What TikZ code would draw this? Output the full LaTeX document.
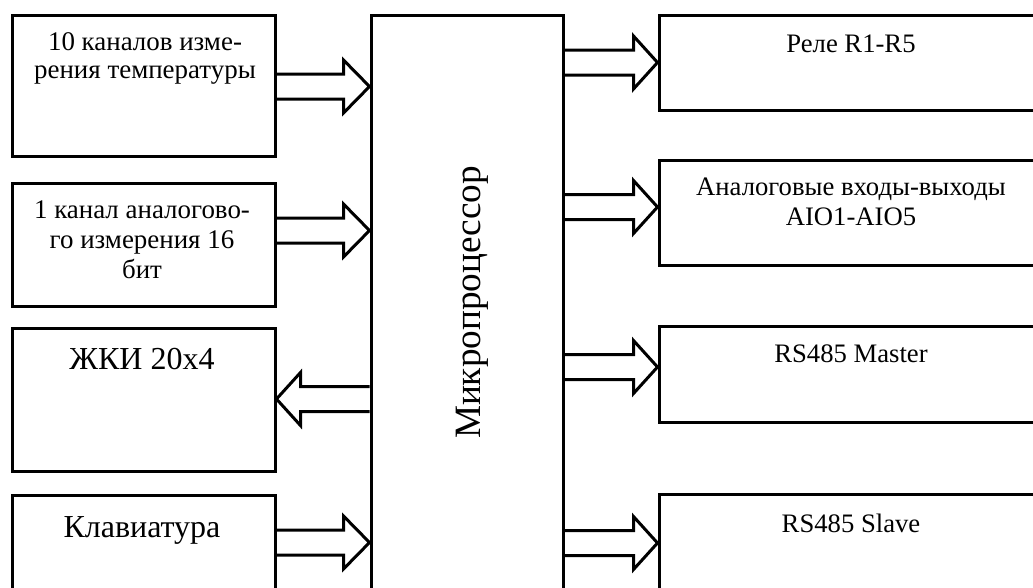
\documentclass[tikz,border=0pt]{standalone}
\usepackage{fontspec}
\setmainfont{Liberation Serif}
\usetikzlibrary{calc,fit}
\tikzset{
  box/.style={draw, line width=2.25pt, inner sep=0pt, rectangle},
  conn/.style={line width=2.25pt, line join=miter},
  lbl/.style={anchor=base, inner sep=0pt},
  ftl/.style={font=\fontsize{20.2pt}{24pt}\selectfont},
  ftr/.style={font=\fontsize{20pt}{24pt}\selectfont},
  ftb/.style={font=\fontsize{24pt}{28pt}\selectfont},
  ftm/.style={font=\fontsize{27.9pt}{32pt}\selectfont},
}
\newcommand\blockarr[3]{%
  \draw[conn] ($(#1)+(0,-12.5)$) -- ($(#2)+(#3,-12.5)$) -- ($(#2)+(#3,-26.5)$)
    -- (#2) -- ($(#2)+(#3,26.5)$) -- ($(#2)+(#3,12.5)$) -- ($(#1)+(0,12.5)$);}
\begin{document}
\begin{tikzpicture}[x=0.75pt,y=-0.75pt]
\useasboundingbox (0,0) rectangle (1033,587);
\clip (0,0) rectangle (1033,587);
% left boxes
\node[box, fit={(12,15) (275,156.5)}] (b1) {};
\node[box, fit={(12,183.5) (275,306.5)}] (b2) {};
\node[box, fit={(12,328.5) (275,471)}] (b3) {};
\node[box, fit={(12,495.5) (275,620)}] (b4) {};
% microprocessor
\node[box, fit={(371,15) (563,620)}] (mp) {};
% right boxes
\node[box, fit={(659,15.5) (1043,110)}] (r1) {};
\node[box, fit={(659,160) (1043,265)}] (r2) {};
\node[box, fit={(659,326.5) (1043,422)}] (r3) {};
\node[box, fit={(659,494.5) (1043,620)}] (r4) {};
% texts
\node[lbl, ftl] (t1a) at (145,50) {10 каналов изме-};
\node[lbl, ftl] (t1b) at (145,78.5) {рения температуры};
\node[lbl, ftl] (t2a) at (142,218.5) {1 канал аналогово-};
\node[lbl, ftl] (t2b) at (142,248.5) {го измерения 16};
\node[lbl, ftl] (t2c) at (142,278.5) {бит};
\node[lbl, ftb] (t3) at (142,369) {ЖКИ 20x4};
\node[lbl, ftb] (t4) at (142,537) {Клавиатура};
\node[lbl, ftm, rotate=90] (tm) at (480,302.5) {Микропроцессор};
\node[lbl, ftr] (tr1) at (851,52) {Реле R1-R5};
\node[lbl, ftr] (tr2a) at (851,195) {Аналоговые входы-выходы};
\node[lbl, ftr] (tr2b) at (851,225) {AIO1-AIO5};
\node[lbl, ftr] (tr3) at (851,362) {RS485 Master};
\node[lbl, ftr] (tr4) at (851,532) {RS485 Slave};
% arrow end points
\coordinate (a1s) at (b1.east |- 0,86.5);
\coordinate (a1e) at (mp.west |- 0,86.5);
\coordinate (a2s) at (b2.east |- 0,230.5);
\coordinate (a2e) at (mp.west |- 0,230.5);
\coordinate (a3s) at (mp.west |- 0,399);
\coordinate (a3e) at (b3.east |- 0,399);
\coordinate (a4s) at (b4.east |- 0,542.5);
\coordinate (a4e) at (mp.west |- 0,542.5);
\coordinate (a5s) at (mp.east |- 0,62.5);
\coordinate (a5e) at (r1.west |- 0,62.5);
\coordinate (a6s) at (mp.east |- 0,207);
\coordinate (a6e) at (r2.west |- 0,207);
\coordinate (a7s) at (mp.east |- 0,367);
\coordinate (a7e) at (r3.west |- 0,367);
\coordinate (a8s) at (mp.east |- 0,543);
\coordinate (a8e) at (r4.west |- 0,543);
% arrows
\blockarr{a1s}{a1e}{-26}
\blockarr{a2s}{a2e}{-26}
\blockarr{a3s}{a3e}{24}
\blockarr{a4s}{a4e}{-26}
\blockarr{a5s}{a5e}{-24}
\blockarr{a6s}{a6e}{-24}
\blockarr{a7s}{a7e}{-24}
\blockarr{a8s}{a8e}{-24}
\end{tikzpicture}
\end{document}
